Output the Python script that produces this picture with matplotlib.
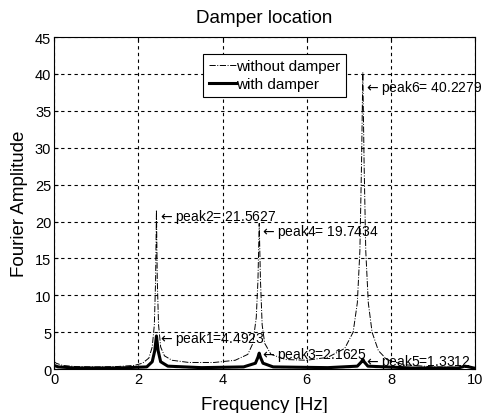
import matplotlib.pyplot as plt

plt.rcParams['font.family'] = ['Liberation Sans', 'DejaVu Sans']

# spectrum without damper
f_free = [0.0, 0.05, 0.2, 0.5, 1.0, 1.5, 1.9, 2.1, 2.25, 2.33, 2.38, 2.41, 2.43, 2.45, 2.48,
          2.53, 2.62, 2.8, 3.2, 3.8, 4.3, 4.6, 4.72, 4.8, 4.84, 4.87, 4.9, 4.94, 5.0, 5.15,
          5.5, 6.0, 6.5, 6.9, 7.1, 7.2, 7.26, 7.3, 7.33, 7.36, 7.4, 7.46, 7.55, 7.7, 7.9,
          8.3, 9.0, 10.0]
a_free = [1.0, 0.8, 0.5, 0.35, 0.3, 0.35, 0.5, 0.8, 1.5, 3.0, 6.0, 12.0, 21.5627, 12.0, 6.0,
          3.0, 1.8, 1.2, 0.9, 0.9, 1.2, 2.0, 3.5, 7.0, 12.0, 19.7434, 12.0, 6.0, 3.5, 2.0,
          1.3, 1.2, 1.6, 2.8, 5.0, 9.0, 16.0, 28.0, 40.2279, 28.0, 16.0, 9.0, 5.0, 2.5, 1.3,
          0.6, 0.3, 0.2]

# spectrum with damper
f_damp = [0.0, 0.1, 0.5, 1.5, 2.2, 2.33, 2.39, 2.43, 2.47, 2.53, 2.7, 3.5, 4.5, 4.78, 4.84,
          4.87, 4.9, 4.96, 5.2, 6.5, 7.2, 7.3, 7.33, 7.36, 7.45, 8.5, 9.6, 9.75, 9.85, 10.0]
a_damp = [0.5, 0.3, 0.15, 0.15, 0.3, 1.0, 2.5, 4.4923, 2.5, 1.0, 0.4, 0.2, 0.3, 0.8, 1.6,
          2.1625, 1.6, 0.8, 0.3, 0.2, 0.4, 1.0, 1.3312, 1.0, 0.4, 0.15, 0.15, 0.4, 0.3, 0.1]

peak_f = [2.43, 2.43, 4.87, 4.87, 7.33, 7.33]
peak_v = [4.4923, 21.5627, 2.1625, 19.7434, 1.3312, 40.2279]
peak_lbl = ['peak1=4.4923', 'peak2= 21.5627', 'peak3=2.1625',
            'peak4= 19.7434', 'peak5=1.3312', 'peak6= 40.2279']
lbl_dy = [-0.3, -0.8, -0.1, -1.0, -0.2, -2.0]

fig = plt.figure(figsize=(4.83, 4.14), dpi=100)
ax = fig.add_axes([0.112, 0.106, 0.872, 0.802])

ax.plot(f_free, a_free, color='black', lw=0.7, ls='-.', label='without damper')
ax.plot(f_damp, a_damp, color='black', lw=2.2, ls='-', label='with damper')

for f, v, s, dy in zip(peak_f, peak_v, peak_lbl, lbl_dy):
    ax.text(f + 0.03, v + dy, r'$\leftarrow$' + s, fontsize=10, va='center', ha='left')

ax.set_xlim(0, 10)
ax.set_ylim(0, 45)
ax.set_xticks(range(0, 11, 2))
ax.set_yticks(range(0, 46, 5))
ax.grid(True, color='black', ls=(0, (3, 3)), lw=0.8)
ax.tick_params(direction='in', labelsize=10.5, length=3, pad=2, top=True, right=True)
for sp in ax.spines.values():
    sp.set_linewidth(0.8)

ax.set_xlabel('Frequency [Hz]', fontsize=13.5, labelpad=7)
ax.set_ylabel('Fourier Amplitude', fontsize=13.5, labelpad=5)
ax.set_title('Damper location', fontsize=13.5, pad=11)

leg = ax.legend(loc='upper left', bbox_to_anchor=(0.354, 0.949), fontsize=11,
                fancybox=False, framealpha=1, edgecolor='black', handlelength=1.8,
                handletextpad=0.0, borderpad=0.35, labelspacing=0.25, borderaxespad=0)
leg.get_frame().set_linewidth(0.8)

fig.savefig('out.png', dpi=100)
